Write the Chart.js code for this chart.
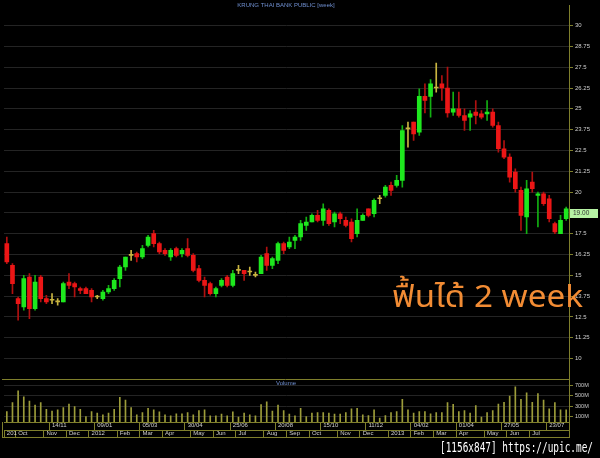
<!DOCTYPE html>
<html>
<head>
<meta charset="utf-8">
<script src="https://cdn.jsdelivr.net/npm/chart.js@4.4.0/dist/chart.umd.min.js"></script>
<style>
  html, body { margin: 0; padding: 0; background: #000; }
</style>
</head>
<body>
<canvas id="chart" width="600" height="458"></canvas>
<script>
// weekly bars, KTB, Sep 2011 - Aug 2013
const weeks = [
  '19/09/11','26/09/11','03/10/11','10/10/11','17/10/11','24/10/11','31/10/11','07/11/11','14/11/11','21/11/11',
  '28/11/11','05/12/11','12/12/11','19/12/11','26/12/11','02/01/12','09/01/12','16/01/12','23/01/12','30/01/12',
  '06/02/12','13/02/12','20/02/12','27/02/12','05/03/12','12/03/12','19/03/12','26/03/12','02/04/12','09/04/12',
  '16/04/12','23/04/12','30/04/12','07/05/12','14/05/12','21/05/12','28/05/12','04/06/12','11/06/12','18/06/12',
  '25/06/12','02/07/12','09/07/12','16/07/12','23/07/12','30/07/12','06/08/12','13/08/12','20/08/12','27/08/12',
  '03/09/12','10/09/12','17/09/12','24/09/12','01/10/12','08/10/12','15/10/12','22/10/12','29/10/12','05/11/12',
  '12/11/12','19/11/12','26/11/12','03/12/12','11/12/12','17/12/12','24/12/12','31/12/12','07/01/13','14/01/13',
  '21/01/13','28/01/13','04/02/13','11/02/13','18/02/13','25/02/13','04/03/13','11/03/13','18/03/13','25/03/13',
  '01/04/13','08/04/13','15/04/13','22/04/13','29/04/13','06/05/13','13/05/13','20/05/13','27/05/13','03/06/13',
  '10/06/13','17/06/13','24/06/13','01/07/13','08/07/13','15/07/13','23/07/13','29/07/13','05/08/13','13/08/13'
];

const opens = [
  16.9, 15.6, 13.6, 13.1, 14.9, 13.0, 14.9, 13.6, 13.5, 13.4,
  13.4, 14.6, 14.5, 14.2, 14.2, 14.1, 13.7, 13.6, 14.0, 14.2,
  14.8, 15.5, 16.2, 16.3, 16.1, 16.8, 17.5, 16.9, 16.5, 16.1,
  16.6, 16.3, 16.6, 16.2, 15.4, 14.7, 14.5, 13.9, 14.4, 14.9,
  14.4, 15.3, 15.3, 15.2, 15.0, 15.1, 16.3, 15.6, 15.9, 16.9,
  16.7, 17.1, 17.3, 18.0, 18.2, 18.6, 18.3, 18.9, 18.2, 18.7,
  18.3, 18.2, 17.5, 18.3, 19.0, 18.7, 19.6, 19.8, 20.4, 20.4,
  20.7, 23.8, 24.2, 23.6, 25.75, 25.75, 26.25, 26.5, 26.25, 24.8,
  25.0, 24.6, 24.5, 24.8, 24.7, 24.7, 24.8, 24.0, 22.6, 22.1,
  21.2, 20.1, 18.5, 20.6, 19.8, 19.9, 19.6, 18.1, 17.5, 18.4
];
const highs = [
  17.3, 15.7, 13.7, 15.0, 15.1, 15.0, 15.0, 13.8, 13.9, 13.6,
  14.6, 15.1, 14.6, 14.3, 14.3, 14.2, 13.8, 14.1, 14.4, 14.8,
  15.6, 16.1, 16.5, 16.4, 16.8, 17.4, 17.7, 17.0, 16.6, 16.6,
  16.7, 16.6, 17.2, 16.3, 15.6, 14.9, 14.6, 14.3, 14.8, 15.0,
  15.3, 15.6, 15.3, 15.5, 15.2, 16.2, 16.7, 16.1, 17.0, 17.0,
  17.3, 17.4, 18.3, 18.5, 18.7, 18.9, 19.3, 19.0, 18.8, 18.8,
  18.5, 18.4, 19.0, 18.7, 19.0, 19.6, 19.8, 20.4, 20.6, 21.0,
  24.0, 24.2, 24.2, 26.2, 26.5, 26.75, 27.75, 27.0, 27.5, 26.0,
  26.0, 25.0, 24.9, 25.5, 24.9, 25.5, 25.0, 24.2, 23.1, 22.3,
  21.4, 20.3, 20.7, 21.2, 20.0, 20.0, 19.8, 18.2, 18.6, 19.1
];
const lows = [
  15.7, 13.9, 12.3, 12.9, 12.4, 12.9, 13.4, 13.3, 13.3, 13.2,
  13.4, 14.2, 13.7, 13.9, 13.9, 13.4, 13.6, 13.5, 13.9, 14.1,
  14.3, 15.3, 15.9, 15.8, 16.0, 16.7, 16.7, 16.3, 16.2, 15.9,
  16.1, 16.1, 16.1, 15.2, 14.6, 13.7, 13.8, 13.7, 14.3, 14.3,
  14.3, 15.1, 14.7, 15.0, 14.9, 15.1, 15.3, 15.4, 15.7, 16.3,
  16.6, 16.6, 17.1, 17.7, 18.2, 18.2, 18.0, 18.0, 17.9, 18.1,
  17.9, 17.0, 17.3, 18.3, 18.5, 18.5, 19.3, 19.7, 19.8, 20.3,
  20.3, 22.7, 23.1, 23.4, 24.75, 24.5, 26.0, 25.5, 24.5, 24.6,
  24.5, 23.7, 23.7, 24.1, 24.4, 24.3, 23.9, 22.4, 22.0, 20.6,
  20.0, 17.7, 17.5, 20.0, 17.9, 19.2, 18.2, 17.5, 17.5, 18.3
];
const closes = [
  15.8, 14.5, 13.3, 14.8, 13.0, 14.6, 13.6, 13.4, 13.5, 13.4,
  14.5, 14.4, 14.3, 14.1, 13.9, 13.7, 13.7, 14.0, 14.2, 14.7,
  15.5, 16.1, 16.2, 16.1, 16.6, 17.3, 16.9, 16.4, 16.3, 16.5,
  16.2, 16.5, 16.2, 15.3, 14.7, 14.4, 13.9, 14.2, 14.7, 14.4,
  15.1, 15.3, 15.1, 15.2, 15.0, 16.1, 15.6, 16.0, 16.9, 16.5,
  17.0, 17.3, 18.1, 18.2, 18.6, 18.3, 19.0, 18.1, 18.7, 18.4,
  18.0, 17.2, 18.3, 18.6, 18.6, 19.5, 19.6, 20.3, 20.1, 20.7,
  23.7, 23.8, 23.5, 25.75, 25.5, 26.5, 26.25, 26.25, 24.75, 25.0,
  24.6, 24.3, 24.7, 24.6, 24.5, 24.8, 24.0, 22.6, 22.1, 20.9,
  20.2, 18.6, 20.2, 20.2, 19.9, 19.3, 18.4, 17.6, 18.3, 19.0
];

// volume in millions of shares
const volumes = [
  198, 367, 591, 479, 398, 323, 367, 243, 206, 230,
  273, 342, 292, 243, 105, 198, 168, 137, 168, 243,
  467, 417, 273, 137, 180, 262, 230, 193, 137, 118,
  155, 155, 180, 137, 217, 230, 118, 118, 150, 118,
  193, 93, 168, 137, 118, 329, 385, 206, 323, 217,
  150, 118, 260, 105, 168, 180, 180, 168, 150, 150,
  180, 249, 262, 137, 124, 230, 75, 124, 180, 198,
  430, 230, 168, 198, 198, 155, 180, 180, 367, 336,
  198, 217, 168, 311, 93, 180, 217, 342, 374, 492,
  666, 430, 554, 374, 542, 417, 249, 367, 230, 230
];

const priceTicks = [10, 11.25, 12.5, 13.75, 15, 16.25, 17.5, 18.75, 20, 21.25, 22.5, 23.75, 25, 26.25, 27.5, 28.75, 30];
const volumeTicks = [100, 300, 500, 700];
const dateTicks = ['14/11/11','09/01/12','05/03/12','30/04/12','25/06/12','20/08/12','15/10/12','11/12/12','04/02/13','01/04/13','27/05/13','23/07/13'];
const monthStarts = ['19/09/11','03/10/11','07/11/11','05/12/11','02/01/12','06/02/12','05/03/12','02/04/12','07/05/12','04/06/12','02/07/12','06/08/12','03/09/12','01/10/12','05/11/12','03/12/12','07/01/13','04/02/13','04/03/13','01/04/13','06/05/13','03/06/13','01/07/13'];
const monthNames = ['201','Oct','Nov','Dec','2012','Feb','Mar','Apr','May','Jun','Jul','Aug','Sep','Oct','Nov','Dec','2013','Feb','Mar','Apr','May','Jun','Jul'];

const olive = '#7f7f2c';
const gridGray = '#242424';
const labelGray = '#cfcfcf';
const font = 'Liberation Sans';

// kleur per kaars: groen omhoog, rood omlaag, geel gelijk
const bodyColors = opens.map((o, i) => closes[i] > o ? '#1ee81e' : closes[i] < o ? '#ec1616' : '#c8b440');
const wickColors = opens.map((o, i) => closes[i] > o ? '#12b012' : closes[i] < o ? '#b01010' : '#c8b440');

const decor = {
  id: 'decor',
  afterDraw(chart) {
    const ctx = chart.ctx;
    const a = chart.chartArea;
    const s = chart.scales;
    ctx.save();

    // frame lines: price/volume split, date rows
    ctx.strokeStyle = olive;
    ctx.lineWidth = 1;
    const split = Math.round(s.yv.top) + 0.5;
    const bottom = Math.round(s.x2.bottom) - 0.5;
    ctx.beginPath();
    ctx.moveTo(a.left - 2, split); ctx.lineTo(a.right, split);
    ctx.moveTo(a.left - 1.5, s.x.top); ctx.lineTo(a.left - 1.5, bottom);
    ctx.moveTo(a.left - 2, bottom); ctx.lineTo(a.right + 1, bottom);
    ctx.moveTo(a.right + 0.5, s.x.top); ctx.lineTo(a.right + 0.5, bottom);
    ctx.stroke();

    // titles
    ctx.fillStyle = '#6f8fd0';
    ctx.font = '6px ' + font;
    ctx.textAlign = 'center';
    ctx.textBaseline = 'middle';
    ctx.fillText('KRUNG THAI BANK PUBLIC [week]', 286, 5);
    ctx.fillText('Volume', 286, s.yv.top + 4);

    // last price tag
    const last = closes[closes.length - 1];
    const py = Math.round(s.y.getPixelForValue(last));
    ctx.fillStyle = '#b6f2a4';
    ctx.fillRect(a.right + 1, py, 28, 9);
    ctx.fillStyle = '#333';
    ctx.textAlign = 'left';
    ctx.font = '6.5px ' + font;
    ctx.fillText(last.toFixed(2), a.right + 4, py + 4.5);

    // annotation, stretched to the width it has in the original
    const note = 'ฟื้นได้ 2 week';
    ctx.fillStyle = '#f28c34';
    ctx.font = '31px "Noto Sans Thai", "Noto Sans", sans-serif';
    ctx.textBaseline = 'alphabetic';
    ctx.save();
    ctx.translate(392, 307);
    ctx.scale(191 / ctx.measureText(note).width, 1);
    ctx.fillText(note, 0, 0);
    ctx.restore();

    // source stamp
    const stamp = '[1156x847] https://upic.me/';
    ctx.fillStyle = '#ffffff';
    ctx.font = '14px "DejaVu Sans Mono", monospace';
    const w = ctx.measureText(stamp).width;
    ctx.translate(440, 452);
    ctx.scale(153 / w, 1);
    ctx.fillText(stamp, 0, 0);
    ctx.restore();
  }
};

new Chart(document.getElementById('chart'), {
  type: 'bar',
  data: {
    labels: weeks,
    datasets: [
      {
        label: 'body',
        data: weeks.map((w, i) => [opens[i], closes[i]]),
        yAxisID: 'y',
        backgroundColor: bodyColors,
        barThickness: 4,
        minBarLength: 1,
        grouped: false,
        order: 1
      },
      {
        label: 'wick',
        data: weeks.map((w, i) => [lows[i], highs[i]]),
        yAxisID: 'y',
        backgroundColor: wickColors,
        barThickness: 1,
        grouped: false,
        order: 2
      },
      {
        label: 'Volume',
        data: volumes,
        yAxisID: 'yv',
        backgroundColor: '#9c9c3a',
        barThickness: 1,
        grouped: false,
        order: 3
      }
    ]
  },
  options: {
    responsive: false,
    animation: false,
    layout: { padding: { left: 4, top: 2, right: 0, bottom: 20 } },
    plugins: { legend: { display: false }, tooltip: { enabled: false } },
    scales: {
      x: {
        type: 'category',
        position: 'bottom',
        offset: true,
        grid: {
          offset: true,
          drawOnChartArea: false,
          tickLength: 8,
          color: c => dateTicks.includes(weeks[c.index]) ? olive : 'transparent'
        },
        border: { display: true, color: olive },
        ticks: {
          autoSkip: false,
          maxRotation: 0,
          align: 'start',
          padding: -8,
          color: labelGray,
          font: { size: 6, family: font },
          callback: (v, i) => dateTicks.includes(weeks[i]) ? weeks[i].slice(0, 5) : ''
        },
        afterFit: sc => { sc.height = 8; }
      },
      x2: {
        type: 'category',
        position: 'bottom',
        offset: true,
        grid: {
          offset: true,
          drawOnChartArea: false,
          tickLength: 8,
          color: c => monthStarts.includes(weeks[c.index]) ? olive : 'transparent'
        },
        border: { display: true, color: olive },
        ticks: {
          autoSkip: false,
          maxRotation: 0,
          align: 'start',
          padding: -8,
          color: labelGray,
          font: { size: 6, family: font },
          callback: (v, i) => {
            const k = monthStarts.indexOf(weeks[i]);
            return k >= 0 ? monthNames[k] : '';
          }
        },
        afterFit: sc => { sc.height = 8; }
      },
      y: {
        type: 'linear',
        position: 'right',
        stack: 'panels',
        stackWeight: 377,
        min: 8.75,
        max: 31.2,
        afterBuildTicks: sc => { sc.ticks = priceTicks.map(v => ({ value: v })); },
        grid: { color: gridGray, tickColor: olive, tickLength: 4 },
        border: { color: olive },
        ticks: { autoSkip: false, color: labelGray, padding: 2, font: { size: 6, family: font }, callback: v => String(v) },
        afterFit: sc => { sc.width = 31; }
      },
      yv: {
        type: 'linear',
        position: 'right',
        stack: 'panels',
        stackWeight: 43,
        min: 0,
        max: 810,
        afterBuildTicks: sc => { sc.ticks = volumeTicks.map(v => ({ value: v })); },
        grid: { color: gridGray, tickColor: olive, tickLength: 4 },
        border: { color: olive },
        ticks: { autoSkip: false, color: labelGray, padding: 2, font: { size: 5.5, family: font }, callback: v => v + 'M' },
        afterFit: sc => { sc.width = 31; }
      }
    }
  },
  plugins: [decor]
});
</script>
</body>
</html>
